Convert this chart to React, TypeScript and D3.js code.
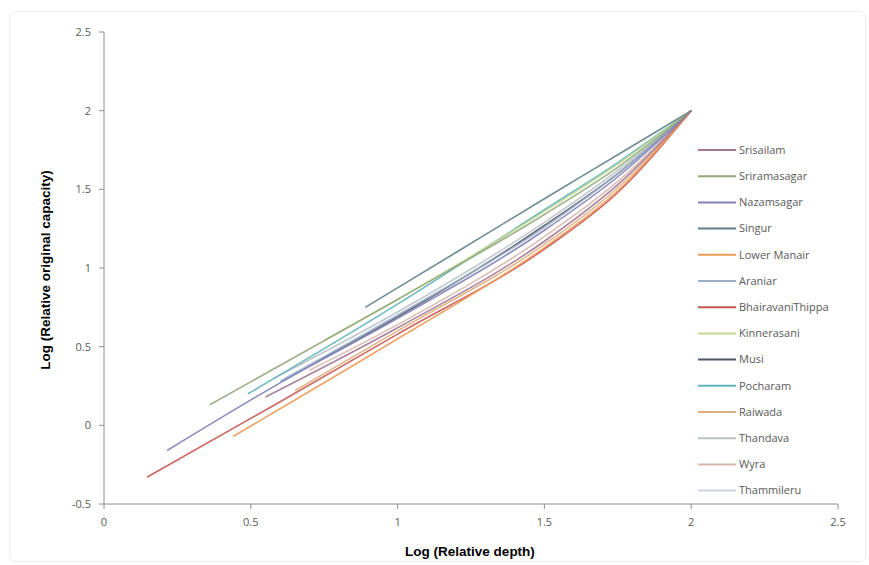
import React from "react";
import * as d3 from "d3";

const seriesNames = [
  "Srisailam", "Sriramasagar", "Nazamsagar", "Singur", "Lower Manair", "Araniar",
  "BhairavaniThippa", "Kinnerasani", "Musi", "Pocharam", "Raiwada", "Thandava", "Wyra", "Thammileru",
];
const seriesColors = [
  "#a07592", "#93a87c", "#7e80b8", "#5d7f86", "#ec9a58", "#9cb0c8",
  "#c4544f", "#c2d68e", "#4f5868", "#5fb3bd", "#deae7c", "#b9c1c9", "#d9b7ad", "#c9d5e2",
];
// [logDepth, logCapacity] points
const srisailam: [number, number][] = [[0.55, 0.18], [1, 0.62], [1.5, 1.17], [1.75, 1.53], [2, 2]];
const sriramasagar: [number, number][] = [[0.36, 0.13], [1, 0.8], [1.5, 1.34], [1.75, 1.64], [2, 2]];
const nazamsagar: [number, number][] = [[0.215, -0.16], [0.6, 0.27], [1, 0.68], [1.5, 1.24], [1.75, 1.58], [2, 2]];
const singur: [number, number][] = [[0.89, 0.75], [1.2, 1.1], [1.5, 1.44], [1.75, 1.72], [2, 2]];
const lowerManair: [number, number][] = [[0.44, -0.07], [1, 0.55], [1.5, 1.13], [1.75, 1.49], [2, 2]];
const araniar: [number, number][] = [[0.6, 0.28], [1, 0.7], [1.5, 1.26], [1.75, 1.6], [2, 2]];
const bhairavaniThippa: [number, number][] = [[0.146, -0.33], [0.6, 0.15], [1, 0.58], [1.5, 1.12], [1.75, 1.48], [2, 2]];
const kinnerasani: [number, number][] = [[0.75, 0.54], [1, 0.8], [1.5, 1.36], [1.75, 1.66], [2, 2]];
const musi: [number, number][] = [[0.72, 0.4], [1, 0.69], [1.5, 1.27], [1.75, 1.6], [2, 2]];
const pocharam: [number, number][] = [[0.49, 0.2], [1, 0.77], [1.5, 1.37], [1.75, 1.67], [2, 2]];
const raiwada: [number, number][] = [[0.65, 0.22], [1, 0.6], [1.5, 1.15], [1.75, 1.51], [2, 2]];
const thandava: [number, number][] = [[0.58, 0.3], [1, 0.72], [1.5, 1.29], [1.75, 1.62], [2, 2]];
const wyra: [number, number][] = [[0.7, 0.35], [1, 0.64], [1.5, 1.2], [1.75, 1.55], [2, 2]];
const thammileru: [number, number][] = [[0.62, 0.3], [1, 0.7], [1.5, 1.26], [1.75, 1.6], [2, 2]];

const seriesData = [
  srisailam, sriramasagar, nazamsagar, singur, lowerManair, araniar,
  bhairavaniThippa, kinnerasani, musi, pocharam, raiwada, thandava, wyra, thammileru,
];

const xTicks = [0, 0.5, 1, 1.5, 2, 2.5];
const yTicks = [-0.5, 0, 0.5, 1, 1.5, 2, 2.5];

export default function App() {
  const W = 869, H = 565;
  const x = d3.scaleLinear().domain([0, 2.5]).range([104, 838]);
  const y = d3.scaleLinear().domain([-0.5, 2.5]).range([504, 32]);
  const line = d3.line<[number, number]>().x(d => x(d[0])).y(d => y(d[1])).curve(d3.curveMonotoneX);
  const font = "'Liberation Sans', Arial, sans-serif";
  const lblFont = "'Open Sans', 'Liberation Sans', sans-serif";
  const axisColor = "#8c8c8c";
  const tickColor = "#595959";
  const legX = 698, legY0 = 150, legStep = 26.2;
  const drawOrder = [...seriesData.keys()].reverse();
  return (
    <svg width={W} height={H} style={{ position: "absolute", left: 0, top: 0 }} xmlns="http://www.w3.org/2000/svg">
      <rect x={0} y={0} width={W} height={H} fill="#fff" />
      <rect x={9.5} y={11.5} width={856} height={550} rx={6} fill="none" stroke="#ececec" />
      {/* axes */}
      <line x1={x(0)} x2={x(0)} y1={y(2.5)} y2={y(-0.5)} stroke={axisColor} strokeWidth={1} />
      <line x1={x(0)} x2={x(2.5)} y1={y(-0.5)} y2={y(-0.5)} stroke={axisColor} strokeWidth={1} />
      {yTicks.map(t => (
        <g key={"y" + t}>
          <line x1={x(0) - 5} x2={x(0)} y1={y(t)} y2={y(t)} stroke={axisColor} />
          <text x={x(0) - 13} y={y(t)} dy="0.35em" textAnchor="end" fontFamily={lblFont} fontSize={11} fill={tickColor}>{t}</text>
        </g>
      ))}
      {xTicks.map(t => (
        <g key={"x" + t}>
          <line x1={x(t)} x2={x(t)} y1={y(-0.5)} y2={y(-0.5) + 5} stroke={axisColor} />
          <text x={x(t)} y={y(-0.5) + 22} textAnchor="middle" fontFamily={lblFont} fontSize={11} fill={tickColor}>{t}</text>
        </g>
      ))}
      <text x={470} y={556} textAnchor="middle" fontFamily={font} fontWeight="bold" fontSize={13.5} fill="#000">Log (Relative depth)</text>
      <text transform={`translate(50,270) rotate(-90)`} textAnchor="middle" fontFamily={font} fontWeight="bold" fontSize={13.5} fill="#000">Log (Relative original capacity)</text>
      {/* series */}
      {drawOrder.map(i => (
        <path key={seriesNames[i]} d={line(seriesData[i]) || ""} fill="none" stroke={seriesColors[i]} strokeWidth={1.6} strokeOpacity={0.9} />
      ))}
      {/* legend */}
      {seriesNames.map((n, i) => (
        <g key={"leg" + n}>
          <line x1={legX} x2={legX + 38} y1={legY0 + i * legStep} y2={legY0 + i * legStep} stroke={seriesColors[i]} strokeWidth={2} />
          <text x={legX + 41} y={legY0 + i * legStep} dy="0.35em" fontFamily={lblFont} fontSize={11} fill={tickColor}>{n}</text>
        </g>
      ))}
    </svg>
  );
}
